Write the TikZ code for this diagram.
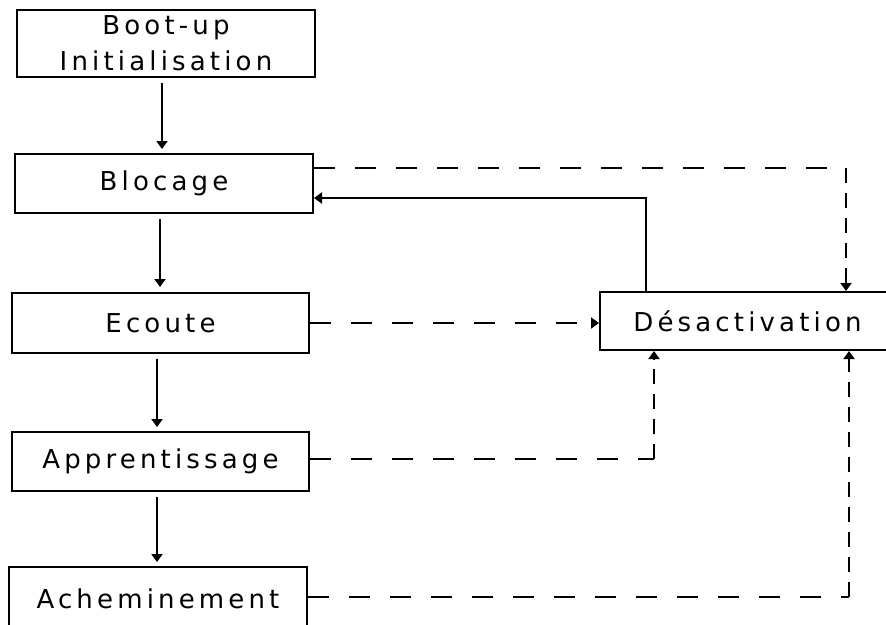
\documentclass[tikz,border=0pt]{standalone}
\usepackage{fontspec}
\setmainfont{DejaVu Sans}[LetterSpace=16]
\usetikzlibrary{arrows.meta}
\begin{document}
\begin{tikzpicture}[x=1pt,y=-1pt,
  stage/.style={draw, line width=2pt, inner sep=0pt, align=center,
    font=\fontsize{26}{36}\selectfont},
  tip/.style={-{Triangle[length=8pt,width=11pt]}},
  arr/.style={line width=2pt, tip},
  hdash/.style={line width=2pt, dash pattern=on 21pt off 20pt},
  vdash/.style={line width=2pt, dash pattern=on 15pt off 10pt}]
  \clip (0,0) rectangle (886,624);
  \fill[white] (0,0) rectangle (886,624);

  % main states
  \node[stage, minimum width=298pt, minimum height=67pt] (boot) at (166,43.5) {Boot-up\\Initialisation};
  \node[stage, minimum width=298pt, minimum height=59pt] (blocage) at (164,183.5) {Blocage};
  \node[stage, minimum width=297pt, minimum height=60pt] (ecoute) at (160.5,323) {Ecoute};
  \node[stage, minimum width=297pt, minimum height=59pt] (appr) at (160.5,461.5) {Apprentissage};
  \node[stage, minimum width=298pt, minimum height=63pt] (achem) at (158,598.5) {Acheminement};
  \node[stage, minimum width=295pt, minimum height=58pt] (desact) at (747.5,321) {Désactivation};

  % normal sequence
  \draw[arr, shorten <=5pt, shorten >=4pt] ([xshift=-4pt]boot.south) -- ([xshift=-4pt]boot.south |- blocage.north);
  \draw[arr, shorten <=5pt, shorten >=5pt] ([xshift=-4pt]blocage.south) -- ([xshift=-4pt]blocage.south |- ecoute.north);
  \draw[arr, shorten <=5pt, shorten >=4pt] ([xshift=-3.5pt]ecoute.south) -- ([xshift=-3.5pt]ecoute.south |- appr.north);
  \draw[arr, shorten <=5pt, shorten >=4pt] ([xshift=-3.5pt]appr.south) -- ([xshift=-3.5pt]appr.south |- achem.north);

  % attachment points on the boxes
  \coordinate (bOut) at ([yshift=15.5pt]blocage.east);
  \coordinate (bIn)  at ([yshift=-14.5pt]blocage.east);
  \coordinate (aOut) at ([yshift=2.5pt]appr.east);
  \coordinate (cOut) at ([yshift=1.5pt]achem.east);
  \coordinate (dTopIn)  at ([xshift=98.5pt]desact.north);
  \coordinate (dTopOut) at ([xshift=-101.5pt]desact.north);
  \coordinate (dBotA) at ([xshift=-93.5pt]desact.south);
  \coordinate (dBotC) at ([xshift=101.5pt]desact.south);

  % corners of the dashed links
  \coordinate (cb) at (bOut -| dTopIn);
  \coordinate (ca) at (aOut -| dBotA);
  \coordinate (cc) at (cOut -| dBotC);

  % deactivation and return
  \draw[hdash] (bOut) -- (cb);
  \draw[vdash, tip] (cb) -- (dTopIn);
  \draw[arr] (dTopOut) |- (bIn);
  \draw[hdash, tip] (ecoute.east) -- (ecoute.east -| desact.west);
  \draw[hdash] (aOut) -- (ca);
  \draw[vdash, tip] (ca) -- (dBotA);
  \draw[hdash] (cOut) -- (cc);
  \draw[vdash, tip] (cc) -- (dBotC);
\end{tikzpicture}
\end{document}
